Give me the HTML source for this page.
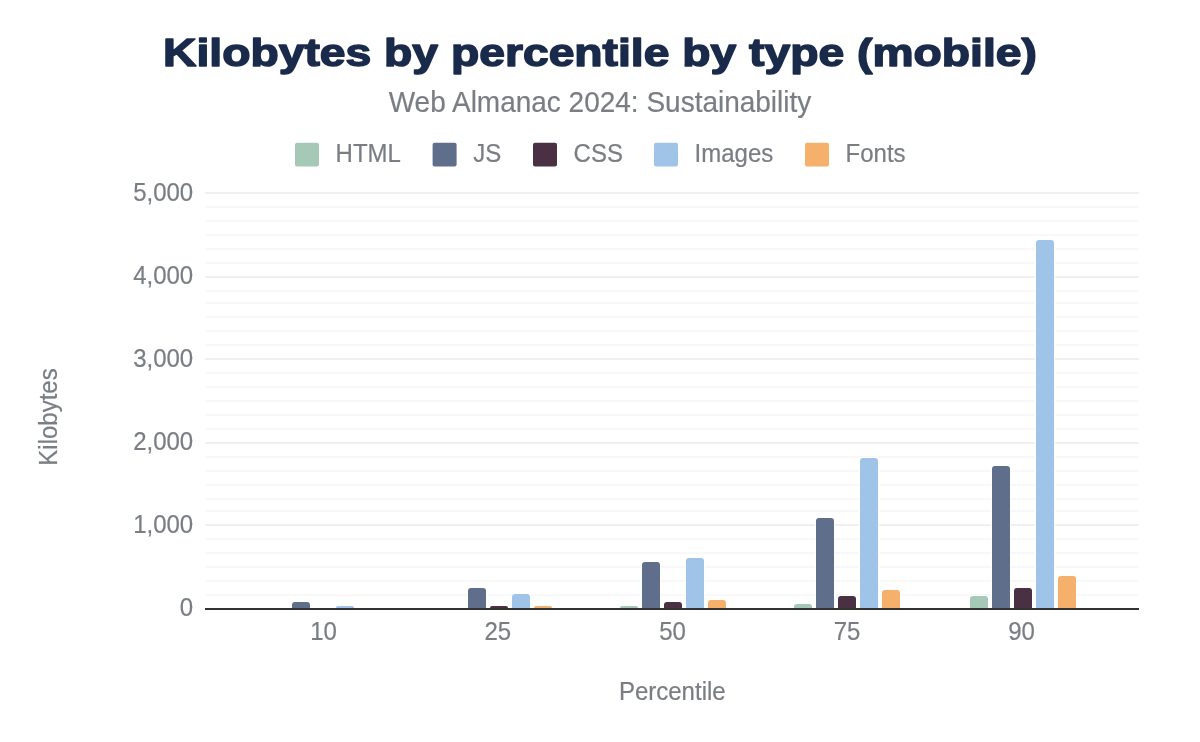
<!DOCTYPE html>
<html><head><meta charset="utf-8"><title>Kilobytes by percentile by type (mobile)</title><style>html,body{margin:0;padding:0;background:#fff;width:1200px;height:742px;overflow:hidden;font-family:"Liberation Sans",sans-serif}</style></head><body>
<svg width="1200" height="742" viewBox="0 0 1200 742" style="display:block;will-change:transform">
<rect width="1200" height="742" fill="#ffffff"/>
<text x="600" y="66.4" text-anchor="middle" font-family="Liberation Sans" font-weight="700" font-size="42" fill="#1a2a4a" stroke="#1a2a4a" stroke-width="1.6" stroke-linejoin="round" transform="translate(600,66.4) scale(1.1017,0.92) translate(-600,-66.4)">Kilobytes by percentile by type (mobile)</text>
<text x="600" y="112" font-family="Liberation Sans" font-size="28" text-anchor="middle" fill="#7a7e83" stroke="#7a7e83" stroke-width="0.2" transform="translate(0,112) scale(1,1.04) translate(0,-112)">Web Almanac 2024: Sustainability</text>
<rect x="295" y="142.7" width="24" height="23.8" rx="2" fill="#a6c9b7"/>
<text x="335.6" y="162" font-family="Liberation Sans" font-size="24" text-anchor="start" fill="#7a7e83" stroke="#7a7e83" stroke-width="0.2" transform="translate(0,162) scale(1,1.04) translate(0,-162)">HTML</text>
<rect x="432.6" y="142.7" width="24" height="23.8" rx="2" fill="#5f6e8a"/>
<text x="473.20000000000005" y="162" font-family="Liberation Sans" font-size="24" text-anchor="start" fill="#7a7e83" stroke="#7a7e83" stroke-width="0.2" transform="translate(0,162) scale(1,1.04) translate(0,-162)">JS</text>
<rect x="533" y="142.7" width="24" height="23.8" rx="2" fill="#4a3043"/>
<text x="573.6" y="162" font-family="Liberation Sans" font-size="24" text-anchor="start" fill="#7a7e83" stroke="#7a7e83" stroke-width="0.2" transform="translate(0,162) scale(1,1.04) translate(0,-162)">CSS</text>
<rect x="654" y="142.7" width="24" height="23.8" rx="2" fill="#a0c4e8"/>
<text x="694.6" y="162" font-family="Liberation Sans" font-size="24" text-anchor="start" fill="#7a7e83" stroke="#7a7e83" stroke-width="0.2" transform="translate(0,162) scale(1,1.04) translate(0,-162)">Images</text>
<rect x="805" y="142.7" width="24" height="23.8" rx="2" fill="#f5b06b"/>
<text x="845.6" y="162" font-family="Liberation Sans" font-size="24" text-anchor="start" fill="#7a7e83" stroke="#7a7e83" stroke-width="0.2" transform="translate(0,162) scale(1,1.04) translate(0,-162)">Fonts</text>
<rect x="205" y="192" width="934" height="2" fill="#f0f0f0"/>
<rect x="205" y="206" width="934" height="2" fill="#f8f8f8"/>
<rect x="205" y="220" width="934" height="2" fill="#f8f8f8"/>
<rect x="205" y="234" width="934" height="2" fill="#f8f8f8"/>
<rect x="205" y="248" width="934" height="2" fill="#f8f8f8"/>
<rect x="205" y="262" width="934" height="2" fill="#f8f8f8"/>
<rect x="205" y="276" width="934" height="2" fill="#f0f0f0"/>
<rect x="205" y="290" width="934" height="2" fill="#f8f8f8"/>
<rect x="205" y="302" width="934" height="2" fill="#f8f8f8"/>
<rect x="205" y="316" width="934" height="2" fill="#f8f8f8"/>
<rect x="205" y="330" width="934" height="2" fill="#f8f8f8"/>
<rect x="205" y="344" width="934" height="2" fill="#f8f8f8"/>
<rect x="205" y="358" width="934" height="2" fill="#f0f0f0"/>
<rect x="205" y="372" width="934" height="2" fill="#f8f8f8"/>
<rect x="205" y="386" width="934" height="2" fill="#f8f8f8"/>
<rect x="205" y="400" width="934" height="2" fill="#f8f8f8"/>
<rect x="205" y="414" width="934" height="2" fill="#f8f8f8"/>
<rect x="205" y="428" width="934" height="2" fill="#f8f8f8"/>
<rect x="205" y="442" width="934" height="2" fill="#f0f0f0"/>
<rect x="205" y="456" width="934" height="2" fill="#f8f8f8"/>
<rect x="205" y="470" width="934" height="2" fill="#f8f8f8"/>
<rect x="205" y="484" width="934" height="2" fill="#f8f8f8"/>
<rect x="205" y="498" width="934" height="2" fill="#f8f8f8"/>
<rect x="205" y="510" width="934" height="2" fill="#f8f8f8"/>
<rect x="205" y="524" width="934" height="2" fill="#f0f0f0"/>
<rect x="205" y="538" width="934" height="2" fill="#f8f8f8"/>
<rect x="205" y="552" width="934" height="2" fill="#f8f8f8"/>
<rect x="205" y="566" width="934" height="2" fill="#f8f8f8"/>
<rect x="205" y="580" width="934" height="2" fill="#f8f8f8"/>
<rect x="205" y="594" width="934" height="2" fill="#f8f8f8"/>
<text x="193.2" y="201.1" font-family="Liberation Sans" font-size="24" text-anchor="end" fill="#7a7e83" stroke="#7a7e83" stroke-width="0.2" transform="translate(0,201.1) scale(1,1.04) translate(0,-201.1)">5,000</text>
<text x="193.2" y="284.1" font-family="Liberation Sans" font-size="24" text-anchor="end" fill="#7a7e83" stroke="#7a7e83" stroke-width="0.2" transform="translate(0,284.1) scale(1,1.04) translate(0,-284.1)">4,000</text>
<text x="193.2" y="367.1" font-family="Liberation Sans" font-size="24" text-anchor="end" fill="#7a7e83" stroke="#7a7e83" stroke-width="0.2" transform="translate(0,367.1) scale(1,1.04) translate(0,-367.1)">3,000</text>
<text x="193.2" y="450.1" font-family="Liberation Sans" font-size="24" text-anchor="end" fill="#7a7e83" stroke="#7a7e83" stroke-width="0.2" transform="translate(0,450.1) scale(1,1.04) translate(0,-450.1)">2,000</text>
<text x="193.2" y="533.1" font-family="Liberation Sans" font-size="24" text-anchor="end" fill="#7a7e83" stroke="#7a7e83" stroke-width="0.2" transform="translate(0,533.1) scale(1,1.04) translate(0,-533.1)">1,000</text>
<text x="193.2" y="616.1" font-family="Liberation Sans" font-size="24" text-anchor="end" fill="#7a7e83" stroke="#7a7e83" stroke-width="0.2" transform="translate(0,616.1) scale(1,1.04) translate(0,-616.1)">0</text>
<rect x="291" y="601" width="20" height="7" rx="4" fill="#ffffff"/>
<path d="M292,608 V605.00 Q292,602 295,602 H307 Q310,602 310,605.00 V608 Z" fill="#5f6e8a"/>
<rect x="335" y="605" width="20" height="3" rx="3" fill="#ffffff"/>
<path d="M336,608 V608.00 Q336,606 338,606 H352 Q354,606 354,608.00 V608 Z" fill="#a0c4e8"/>
<rect x="467" y="587" width="20" height="21" rx="4" fill="#ffffff"/>
<path d="M468,608 V591.00 Q468,588 471,588 H483 Q486,588 486,591.00 V608 Z" fill="#5f6e8a"/>
<rect x="489" y="605" width="20" height="3" rx="3" fill="#ffffff"/>
<path d="M490,608 V608.00 Q490,606 492,606 H506 Q508,606 508,608.00 V608 Z" fill="#4a3043"/>
<rect x="511" y="593" width="20" height="15" rx="4" fill="#ffffff"/>
<path d="M512,608 V597.00 Q512,594 515,594 H527 Q530,594 530,597.00 V608 Z" fill="#a0c4e8"/>
<rect x="533" y="605" width="20" height="3" rx="3" fill="#ffffff"/>
<path d="M534,608 V608.00 Q534,606 536,606 H550 Q552,606 552,608.00 V608 Z" fill="#f5b06b"/>
<rect x="619" y="605" width="20" height="3" rx="3" fill="#ffffff"/>
<path d="M620,608 V608.00 Q620,606 622,606 H636 Q638,606 638,608.00 V608 Z" fill="#a6c9b7"/>
<rect x="641" y="561" width="20" height="47" rx="4" fill="#ffffff"/>
<path d="M642,608 V565.00 Q642,562 645,562 H657 Q660,562 660,565.00 V608 Z" fill="#5f6e8a"/>
<rect x="663" y="601" width="20" height="7" rx="4" fill="#ffffff"/>
<path d="M664,608 V605.00 Q664,602 667,602 H679 Q682,602 682,605.00 V608 Z" fill="#4a3043"/>
<rect x="685" y="557" width="20" height="51" rx="4" fill="#ffffff"/>
<path d="M686,608 V561.00 Q686,558 689,558 H701 Q704,558 704,561.00 V608 Z" fill="#a0c4e8"/>
<rect x="707" y="599" width="20" height="9" rx="4" fill="#ffffff"/>
<path d="M708,608 V603.00 Q708,600 711,600 H723 Q726,600 726,603.00 V608 Z" fill="#f5b06b"/>
<rect x="793" y="603" width="20" height="5" rx="4" fill="#ffffff"/>
<path d="M794,608 V607.00 Q794,604 797,604 H809 Q812,604 812,607.00 V608 Z" fill="#a6c9b7"/>
<rect x="815" y="517" width="20" height="91" rx="4" fill="#ffffff"/>
<path d="M816,608 V521.00 Q816,518 819,518 H831 Q834,518 834,521.00 V608 Z" fill="#5f6e8a"/>
<rect x="837" y="595" width="20" height="13" rx="4" fill="#ffffff"/>
<path d="M838,608 V599.00 Q838,596 841,596 H853 Q856,596 856,599.00 V608 Z" fill="#4a3043"/>
<rect x="859" y="457" width="20" height="151" rx="4" fill="#ffffff"/>
<path d="M860,608 V461.00 Q860,458 863,458 H875 Q878,458 878,461.00 V608 Z" fill="#a0c4e8"/>
<rect x="881" y="589" width="20" height="19" rx="4" fill="#ffffff"/>
<path d="M882,608 V593.00 Q882,590 885,590 H897 Q900,590 900,593.00 V608 Z" fill="#f5b06b"/>
<rect x="969" y="595" width="20" height="13" rx="4" fill="#ffffff"/>
<path d="M970,608 V599.00 Q970,596 973,596 H985 Q988,596 988,599.00 V608 Z" fill="#a6c9b7"/>
<rect x="991" y="465" width="20" height="143" rx="4" fill="#ffffff"/>
<path d="M992,608 V469.00 Q992,466 995,466 H1007 Q1010,466 1010,469.00 V608 Z" fill="#5f6e8a"/>
<rect x="1013" y="587" width="20" height="21" rx="4" fill="#ffffff"/>
<path d="M1014,608 V591.00 Q1014,588 1017,588 H1029 Q1032,588 1032,591.00 V608 Z" fill="#4a3043"/>
<rect x="1035" y="239" width="20" height="369" rx="4" fill="#ffffff"/>
<path d="M1036,608 V243.00 Q1036,240 1039,240 H1051 Q1054,240 1054,243.00 V608 Z" fill="#a0c4e8"/>
<rect x="1057" y="575" width="20" height="33" rx="4" fill="#ffffff"/>
<path d="M1058,608 V579.00 Q1058,576 1061,576 H1073 Q1076,576 1076,579.00 V608 Z" fill="#f5b06b"/>
<rect x="205" y="608" width="934" height="2" fill="#333333"/>
<text x="323.5" y="640" font-family="Liberation Sans" font-size="24" text-anchor="middle" fill="#7a7e83" stroke="#7a7e83" stroke-width="0.2" transform="translate(0,640) scale(1,1.04) translate(0,-640)">10</text>
<text x="497.75" y="640" font-family="Liberation Sans" font-size="24" text-anchor="middle" fill="#7a7e83" stroke="#7a7e83" stroke-width="0.2" transform="translate(0,640) scale(1,1.04) translate(0,-640)">25</text>
<text x="672.6" y="640" font-family="Liberation Sans" font-size="24" text-anchor="middle" fill="#7a7e83" stroke="#7a7e83" stroke-width="0.2" transform="translate(0,640) scale(1,1.04) translate(0,-640)">50</text>
<text x="847.1" y="640" font-family="Liberation Sans" font-size="24" text-anchor="middle" fill="#7a7e83" stroke="#7a7e83" stroke-width="0.2" transform="translate(0,640) scale(1,1.04) translate(0,-640)">75</text>
<text x="1021.6" y="640" font-family="Liberation Sans" font-size="24" text-anchor="middle" fill="#7a7e83" stroke="#7a7e83" stroke-width="0.2" transform="translate(0,640) scale(1,1.04) translate(0,-640)">90</text>
<text x="672.3" y="699.8" font-family="Liberation Sans" font-size="24" text-anchor="middle" fill="#7a7e83" stroke="#7a7e83" stroke-width="0.2" transform="translate(0,699.8) scale(1,1.04) translate(0,-699.8)">Percentile</text>
<g transform="translate(56.6,417) rotate(-90)"><text x="0" y="0" font-family="Liberation Sans" font-size="24" text-anchor="middle" fill="#7a7e83" stroke="#7a7e83" stroke-width="0.2" transform="translate(0,0) scale(1,1.04) translate(0,0)">Kilobytes</text></g>
</svg>
</body></html>
